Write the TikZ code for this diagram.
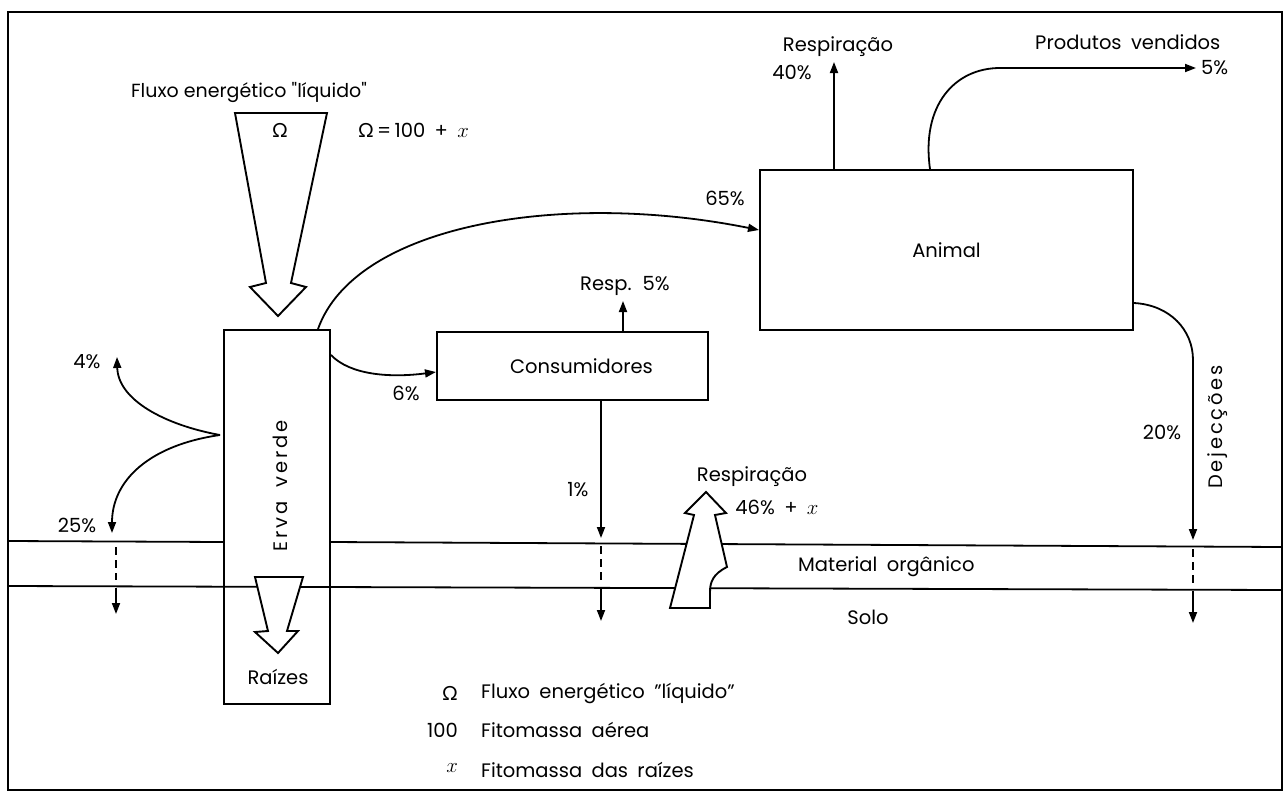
\documentclass[tikz,border=0pt]{standalone}
\usepackage{fontspec}
\setmainfont{Poppins}[WordSpace=1.8]
\newfontfamily\plainfont{Poppins}
\newfontfamily\grk{Lato}
\usetikzlibrary{arrows.meta}
\begin{document}
\begin{tikzpicture}[x=1pt,y=-1pt,
  every node/.style={font=\fontsize{19.5}{22}\selectfont, inner sep=1pt},
  ln/.style={line width=1.8pt},
  arr/.style={line width=1.8pt, -{Triangle[length=11pt,width=8pt]}},
  dsh/.style={line width=2pt, dash pattern=on 8pt off 5pt},
  box/.style={draw, line width=2pt, inner sep=0pt},
  spaced/.style={font=\fontsize{19.5}{22}\selectfont\addfontfeature{LetterSpace=14}},
  tight/.style={font=\plainfont\fontsize{19}{22}\selectfont},
  hollow/.style={draw, fill=white, line width=1.9pt, line join=miter}]
\useasboundingbox (0,0) rectangle (1286,796);
\fill[white] (0,0) rectangle (1286,796);
% frame
\draw[line width=1.4pt] (8,12) rectangle (1282,790);
% ground lines
\draw[ln] (8,541) -- (224,542);
\draw[ln] (330,542) -- (1282,547);
\draw[ln] (8,586) -- (1282,590);
% boxes
\node[box, minimum width=106pt, minimum height=374pt] (erva) at (277,517) {};
\node[box, minimum width=271pt, minimum height=68pt] (cons) at (572.5,366) {\hspace{18pt}Consumidores};
\node[box, minimum width=373pt, minimum height=160pt] (animal) at (946.5,250) {Animal};
\node[rotate=90, spaced] (ervat) at (280,486) {Erva verde};
\node (raiz) at (278,677) {Raízes};
% hollow arrows
\draw[hollow] (235,113) -- (327,113) -- (291,283) -- (306,287) -- (278,316) -- (250,287) -- (266,283) -- cycle;
\draw[hollow] (255,577) -- (303,577) -- (287,631) -- (298,631) -- (278,653) -- (255,632) -- (268,631) -- cycle;
\draw[hollow] (706,492) -- (726,513) -- (715,515) -- (727,567) .. controls (713,574) and (710,582) .. (710,592) -- (710,608) -- (670,608) -- (694,515) -- (685,513) -- cycle;
% flux labels
\node[tight] (fluxt) at (249,92) {Fluxo energético "líquido"};
\node (om) at (280,130) {\grk Ω};
\node[anchor=west] (omeq) at (357,130) {{\grk Ω}\,=\,100 + $x$};
% Erva -> Animal
\coordinate (ea) at (318,0);
\coordinate (a65) at (0,230);
\draw[arr] (ea |- erva.north) .. controls (355,225) and (560,190) .. (animal.west |- a65);
\node (p65) at (725,198) {65\%};
% Erva -> Consumidores
\coordinate (e6) at (0,355);
\coordinate (c6) at (0,372);
\draw[arr] (erva.east |- e6) .. controls (350,375) and (390,378) .. (cons.west |- c6);
\node (p6) at (406,393) {6\%};
% Consumidores respiration
\coordinate (r5) at (623,301);
\draw[arr] (r5 |- cons.north) -- (r5);
\node (resp5) at (625,286) {Resp. 5\%};
% Consumidores down
\coordinate (c1a) at (601,538);
\draw[arr] (c1a |- cons.south) -- (c1a);
\coordinate (c1b) at (601,546);
\coordinate (c1c) at (601,582);
\draw[dsh] (c1b) -- (c1c);
\coordinate (c1d) at (601,589);
\coordinate (c1e) at (601,621);
\draw[arr] (c1d) -- (c1e);
\node (p1) at (578,490) {1\%};
% left flows
\coordinate (src) at (220,435);
\coordinate (t4) at (117,357);
\coordinate (t25) at (112,533);
\draw[arr] (src) .. controls (165,425) and (118,400) .. (t4);
\draw[arr] (src) .. controls (150,445) and (112,480) .. (t25);
\node (p4) at (87,362) {4\%};
\node (p25) at (77,525) {25\%};
\coordinate (l1) at (116,547);
\coordinate (l2) at (116,580);
\draw[dsh] (l1) -- (l2);
\coordinate (l3) at (116,588);
\coordinate (l4) at (116,614);
\draw[arr] (l3) -- (l4);
% Animal respiration
\coordinate (r40) at (834,62);
\draw[arr] (r40 |- animal.north) -- (r40);
\node (resp40) at (838,47) {Respiração};
\node (p40) at (792,72) {40\%};
% products
\coordinate (pvs) at (930,0);
\coordinate (pve) at (1196,68);
\draw[arr] (pvs |- animal.north) .. controls (921,105) and (955,68) .. (1000,68) -- (pve);
\node[anchor=west] (prod) at (1034,42) {Produtos vendidos};
\node[anchor=west] (p5) at (1200,68) {5\%};
% dejeccoes
\coordinate (d0) at (0,303);
\coordinate (d1) at (1193,360);
\coordinate (d2) at (1193,540);
\draw[arr] (animal.east |- d0) .. controls (1170,305) and (1193,330) .. (d1) -- (d2);
\coordinate (d3) at (1193,549);
\coordinate (d4) at (1193,584);
\draw[dsh] (d3) -- (d4);
\coordinate (d5) at (1193,591);
\coordinate (d6) at (1193,623);
\draw[arr] (d5) -- (d6);
\node (p20) at (1162,432) {20\%};
\node[rotate=90, spaced] (dej) at (1218,427) {Dejecções};
% soil respiration
\node (resps) at (752,477) {Respiração};
\node (p46) at (777,507) {46\% + $x$};
\node[anchor=west] (mat) at (797,567) {Material orgânico};
\node (solo) at (868,617) {Solo};
% legend
\node[anchor=east] (lg1s) at (459,693) {\grk Ω};
\node[anchor=east] (lg2s) at (459,730) {100};
\node[anchor=east] (lg3s) at (459,768) {$x$};
\node[anchor=west] (lg1) at (480,693) {Fluxo energético "líquido"};
\node[anchor=west] (lg2) at (480,730) {Fitomassa aérea};
\node[anchor=west] (lg3) at (480,770) {Fitomassa das raízes};
\end{tikzpicture}
\end{document}
